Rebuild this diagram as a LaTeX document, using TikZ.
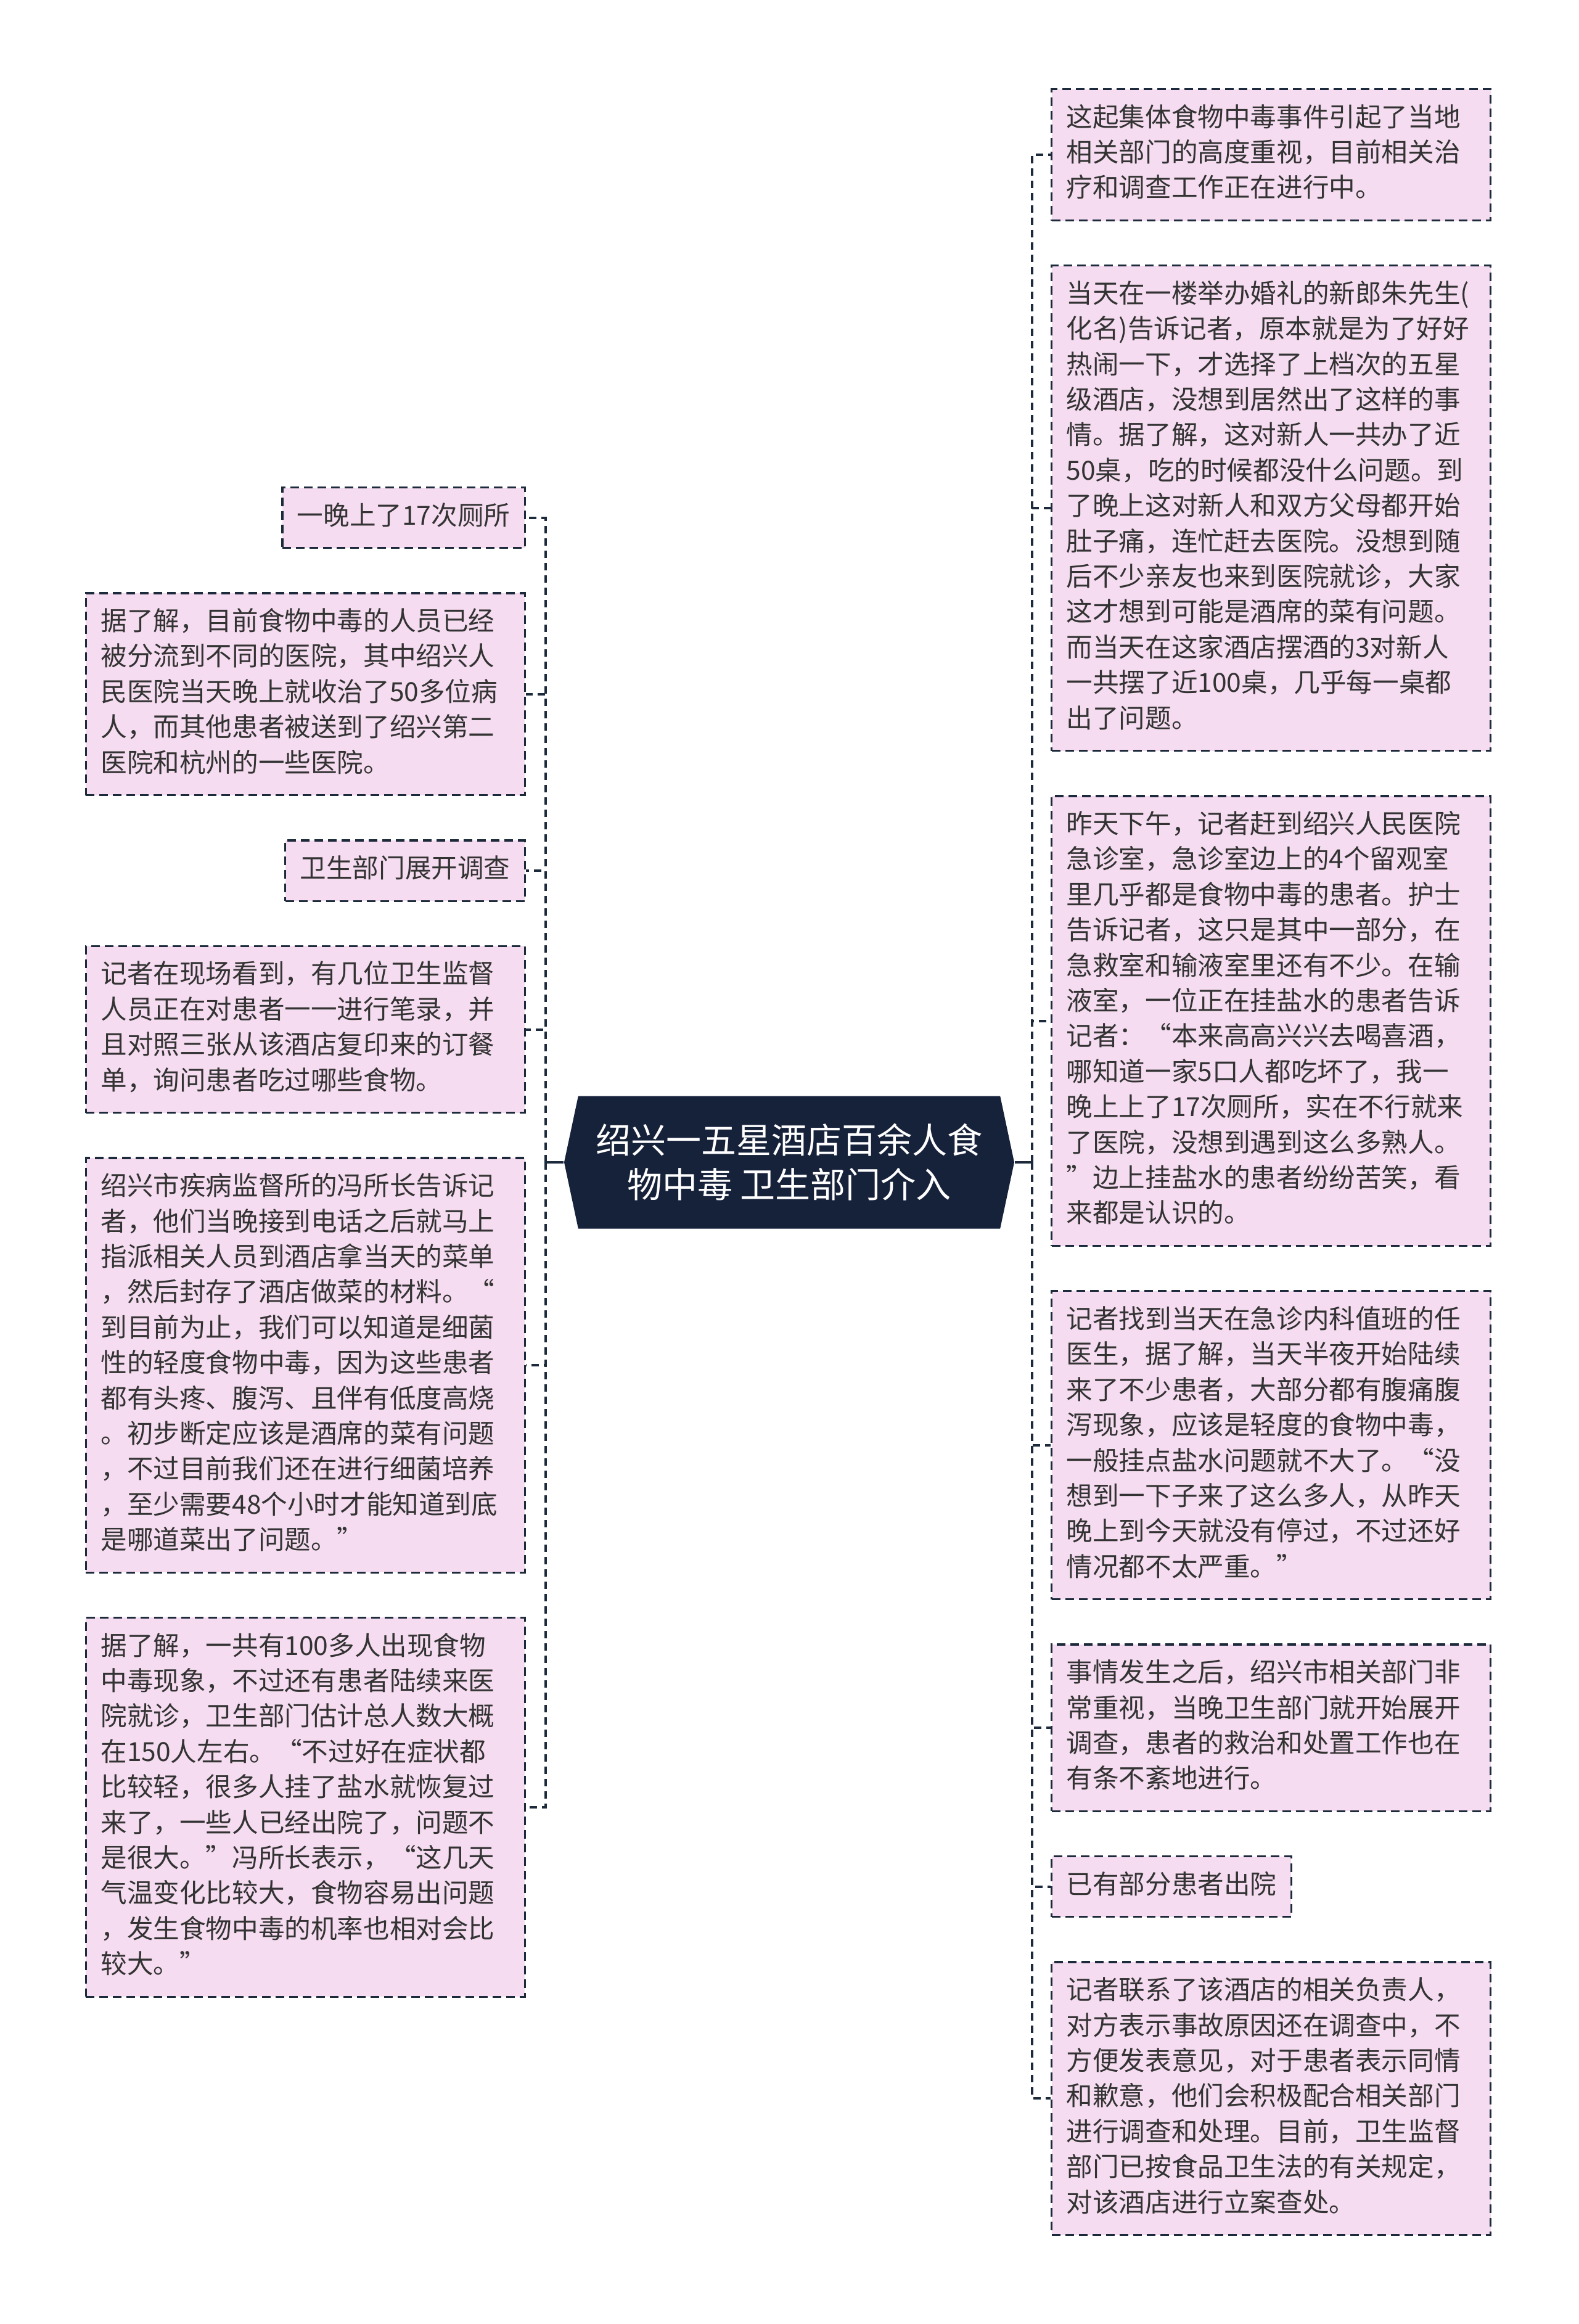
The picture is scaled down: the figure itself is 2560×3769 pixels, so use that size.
\documentclass[tikz,border=0pt]{standalone}
\usepackage{fontspec}
\usepackage{xcolor}
\usetikzlibrary{positioning,shapes.symbols}
\newfontfamily\cjk{Noto Sans CJK SC}
\definecolor{ink}{HTML}{1D2A3B}
\definecolor{rootbg}{HTML}{16213A}
\definecolor{leafbg}{HTML}{F5DCF0}
\definecolor{txt}{HTML}{333333}

\begin{document}
\begin{tikzpicture}[
  x=0.25pt, y=-0.25pt,
  node distance=17.5pt,
  topic/.style={signal,signal to=east and west,signal pointer angle=156,fill=rootbg,text=white,minimum width=182.5pt,minimum height=53.75pt,inner sep=0pt,align=center,font=\cjk\fontsize{14.25}{18}\selectfont},
  leaf/.style={draw=ink,line width=0.8pt,dash pattern=on 3.5pt off 2pt,fill=leafbg,text=txt,inner xsep=6pt,inner ysep=5.1pt,font=\cjk\fontsize{10.65}{14.35}\selectfont,execute at begin node=\strut,execute at end node=\strut},
  note/.style={leaf,text width=166pt,align=left},
  trunk/.style={draw=ink,line width=1pt},
  branch/.style={draw=ink,line width=1pt,dash pattern=on 3pt off 2pt}
]
\useasboundingbox (0,0) rectangle (2560,3769);
\fill[white] (0,0) rectangle (2560,3769);

\node[topic] (root) at (1280,1885) {绍兴一五星酒店百余人食\\物中毒 卫生部门介入};

% right side
\node[note,anchor=north west] (r1) at (1704,143) {这起集体食物中毒事件引起了当地\\相关部门的高度重视，目前相关治\\疗和调查工作正在进行中。};
\node[note,below=of r1.south west,anchor=north west] (r2) {当天在一楼举办婚礼的新郎朱先生(\\化名)告诉记者，原本就是为了好好\\热闹一下，才选择了上档次的五星\\级酒店，没想到居然出了这样的事\\情。据了解，这对新人一共办了近\\50桌，吃的时候都没什么问题。到\\了晚上这对新人和双方父母都开始\\肚子痛，连忙赶去医院。没想到随\\后不少亲友也来到医院就诊，大家\\这才想到可能是酒席的菜有问题。\\而当天在这家酒店摆酒的3对新人\\一共摆了近100桌，几乎每一桌都\\出了问题。};
\node[note,below=of r2.south west,anchor=north west] (r3) {昨天下午，记者赶到绍兴人民医院\\急诊室，急诊室边上的4个留观室\\里几乎都是食物中毒的患者。护士\\告诉记者，这只是其中一部分，在\\急救室和输液室里还有不少。在输\\液室，一位正在挂盐水的患者告诉\\记者：“本来高高兴兴去喝喜酒，\\哪知道一家5口人都吃坏了，我一\\晚上上了17次厕所，实在不行就来\\了医院，没想到遇到这么多熟人。\\”边上挂盐水的患者纷纷苦笑，看\\来都是认识的。};
\node[note,below=of r3.south west,anchor=north west] (r4) {记者找到当天在急诊内科值班的任\\医生，据了解，当天半夜开始陆续\\来了不少患者，大部分都有腹痛腹\\泻现象，应该是轻度的食物中毒，\\一般挂点盐水问题就不大了。“没\\想到一下子来了这么多人，从昨天\\晚上到今天就没有停过，不过还好\\情况都不太严重。”};
\node[note,below=of r4.south west,anchor=north west] (r5) {事情发生之后，绍兴市相关部门非\\常重视，当晚卫生部门就开始展开\\调查，患者的救治和处置工作也在\\有条不紊地进行。};
\node[leaf,below=of r5.south west,anchor=north west] (r6) {已有部分患者出院};
\node[note,below=of r6.south west,anchor=north west] (r7) {记者联系了该酒店的相关负责人，\\对方表示事故原因还在调查中，不\\方便发表意见，对于患者表示同情\\和歉意，他们会积极配合相关部门\\进行调查和处理。目前，卫生监督\\部门已按食品卫生法的有关规定，\\对该酒店进行立案查处。};

% left side
\node[leaf,anchor=north east] (l1) at (853,789) {一晚上了17次厕所};
\node[note,below=of l1.south east,anchor=north east] (l2) {据了解，目前食物中毒的人员已经\\被分流到不同的医院，其中绍兴人\\民医院当天晚上就收治了50多位病\\人，而其他患者被送到了绍兴第二\\医院和杭州的一些医院。};
\node[leaf,below=of l2.south east,anchor=north east] (l3) {卫生部门展开调查};
\node[note,below=of l3.south east,anchor=north east] (l4) {记者在现场看到，有几位卫生监督\\人员正在对患者一一进行笔录，并\\且对照三张从该酒店复印来的订餐\\单，询问患者吃过哪些食物。};
\node[note,below=of l4.south east,anchor=north east] (l5) {绍兴市疾病监督所的冯所长告诉记\\者，他们当晚接到电话之后就马上\\指派相关人员到酒店拿当天的菜单\\，然后封存了酒店做菜的材料。“\\到目前为止，我们可以知道是细菌\\性的轻度食物中毒，因为这些患者\\都有头疼、腹泻、且伴有低度高烧\\。初步断定应该是酒席的菜有问题\\，不过目前我们还在进行细菌培养\\，至少需要48个小时才能知道到底\\是哪道菜出了问题。”};
\node[note,below=of l5.south east,anchor=north east] (l6) {据了解，一共有100多人出现食物\\中毒现象，不过还有患者陆续来医\\院就诊，卫生部门估计总人数大概\\在150人左右。“不过好在症状都\\比较轻，很多人挂了盐水就恢复过\\来了，一些人已经出院了，问题不\\是很大。”冯所长表示，“这几天\\气温变化比较大，食物容易出问题\\，发生食物中毒的机率也相对会比\\较大。”};

\coordinate[left=7.25pt of root.west] (lfork);
\coordinate[right=7pt of root.east] (rfork);
\draw[trunk] (root.west) -- (lfork);
\draw[trunk] (root.east) -- (rfork);
\foreach \i in {1,...,6} \draw[branch] (lfork) |- (l\i.east);
\foreach \i in {1,...,7} \draw[branch] (rfork) |- (r\i.west);
\end{tikzpicture}
\end{document}
